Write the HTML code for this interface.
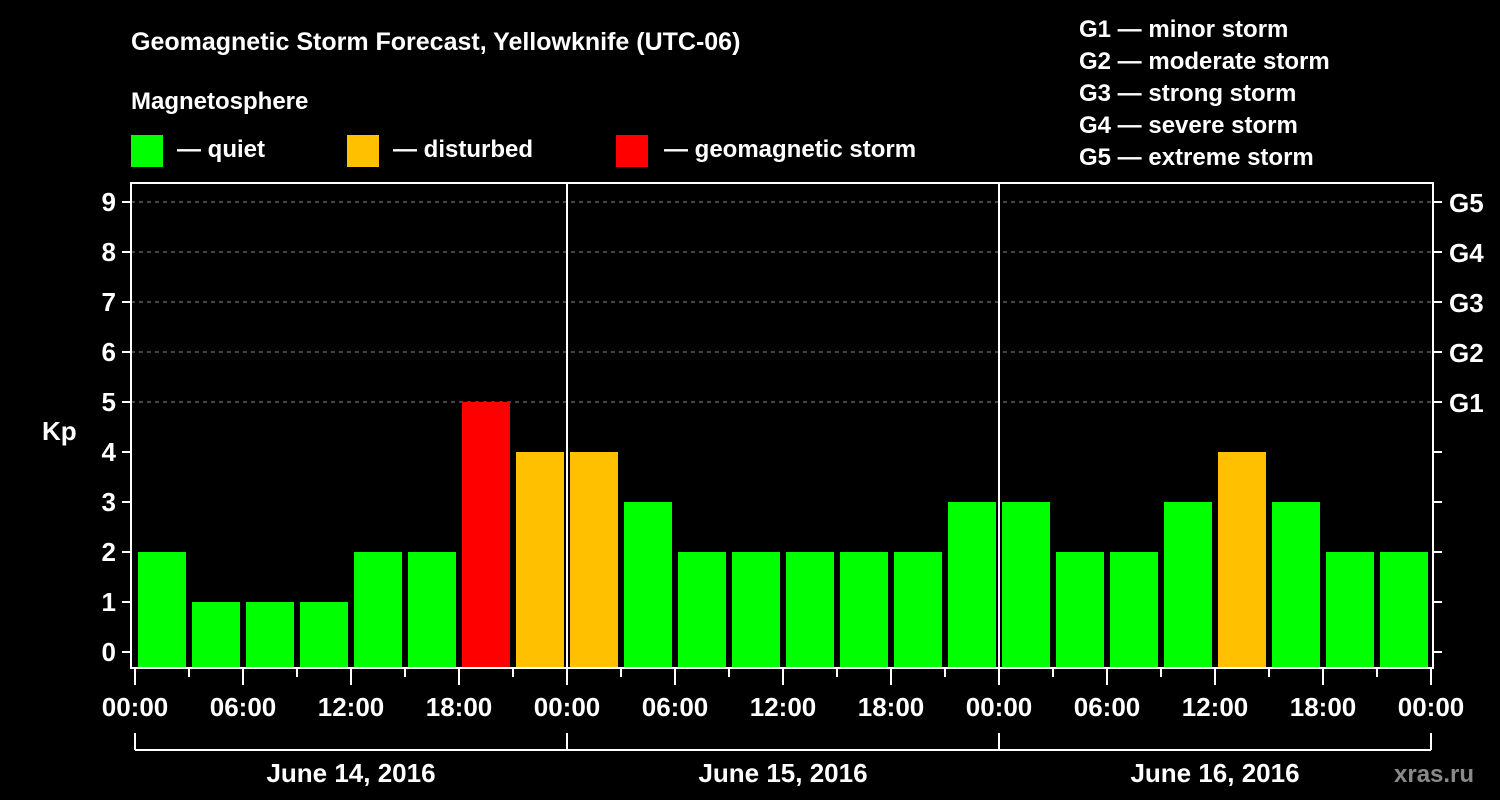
<!DOCTYPE html>
<html><head><meta charset="utf-8"><style>
body{margin:0;background:#000;width:1500px;height:800px;overflow:hidden}
svg{display:block;font-family:"Liberation Sans",Arial,sans-serif;font-weight:bold;fill:#fff}
</style></head><body>
<svg id="c" width="1500" height="800" viewBox="0 0 1500 800">
<text x="131" y="50" font-size="25">Geomagnetic Storm Forecast, Yellowknife (UTC-06)</text>
<text x="131" y="109" font-size="24">Magnetosphere</text>
<g><rect x="131" y="135" width="32" height="32" fill="#00ff00"/><text x="177" y="157" font-size="24">— quiet</text></g>
<g><rect x="347" y="135" width="32" height="32" fill="#ffc000"/><text x="393" y="157" font-size="24">— disturbed</text></g>
<g><rect x="616" y="135" width="32" height="32" fill="#ff0000"/><text x="664" y="157" font-size="24">— geomagnetic storm</text></g>
<g font-size="24">
<text x="1079" y="37">G1 — minor storm</text><text x="1079" y="69">G2 — moderate storm</text><text x="1079" y="101">G3 — strong storm</text><text x="1079" y="133">G4 — severe storm</text><text x="1079" y="165">G5 — extreme storm</text></g>
<text x="42" y="440" font-size="26">Kp</text>
<text x="1394" y="782" font-size="24" fill="#888" style="fill:#8a8a8a">xras.ru</text>
<g id="grid"></g><g id="bars"></g><g id="axes"></g>
</svg>
<script>
const kpValues=[2,1,1,1,2,2,5,4, 4,3,2,2,2,2,2,3, 3,2,2,3,4,3,2,2];
const dayLabels=["June 14, 2016","June 15, 2016","June 16, 2016"];
const yTicks=[0,1,2,3,4,5,6,7,8,9];
const gLabels=["G1","G2","G3","G4","G5"];
const hourLabels=["00:00","06:00","12:00","18:00"];
const NS="http://www.w3.org/2000/svg";
const x0=135,slot=54,yBase=652,unit=50,plotL=131,plotR=1433,plotT=183,plotB=668;
const xs=i=>x0+slot*i, ys=v=>yBase-unit*v;
function mk(t,a,p){const e=document.createElementNS(NS,t);for(const k in a)e.setAttribute(k,a[k]);p.appendChild(e);return e;}
const grid=document.getElementById('grid'),bars=document.getElementById('bars'),axes=document.getElementById('axes');
yTicks.forEach(v=>{
 if(v>=5){const l=mk('line',{x1:plotL,x2:plotR,y1:ys(v),y2:ys(v),stroke:'#888','stroke-dasharray':'4 4','stroke-width':1},grid);
 
 }
 mk('line',{x1:122,x2:plotL,y1:ys(v),y2:ys(v),stroke:'#fff','stroke-width':2},axes);
 mk('line',{x1:plotR,x2:1442,y1:ys(v),y2:ys(v),stroke:'#fff','stroke-width':2},axes);
 const t=mk('text',{x:116,y:ys(v)+9,'text-anchor':'end','font-size':26},axes);t.textContent=v;
 
 
});
gLabels.forEach((g,i)=>{const t=mk('text',{x:1449,y:ys(5+i)+10,'font-size':26},axes);t.textContent=g;
 
 });
kpValues.forEach((v,i)=>{
 const c=v>=5?'#ff0000':(v>=4?'#ffc000':'#00ff00');
 const r=mk('rect',{x:xs(i)+3,y:ys(v),width:48,height:plotB-1-ys(v),fill:c},bars);
 
 
});
mk('rect',{x:plotL,y:plotT,width:plotR-plotL,height:plotB-plotT,fill:'none',stroke:'#fff','stroke-width':2},axes);
[1,2].forEach(d=>mk('line',{x1:xs(8*d),x2:xs(8*d),y1:plotT,y2:plotB,stroke:'#fff','stroke-width':2},axes));
for(let i=0;i<=24;i++){
 const long=i%2===0;
 mk('line',{x1:xs(i),x2:xs(i),y1:plotB,y2:long?685:677,stroke:'#fff','stroke-width':2},axes);
 if(long){const t=mk('text',{x:xs(i),y:716,'text-anchor':'middle','font-size':26},axes);t.textContent=hourLabels[(i/2)%4];
 
 }
}
mk('line',{x1:xs(0),x2:xs(24),y1:750,y2:750,stroke:'#fff','stroke-width':2},axes);
dayLabels.forEach((d,k)=>{
 const t=mk('text',{x:xs(8*k+4),y:782,'text-anchor':'middle','font-size':26},axes);t.textContent=d;
 
 
});
for(let k=0;k<=3;k++)mk('line',{x1:xs(8*k),x2:xs(8*k),y1:733,y2:750,stroke:'#fff','stroke-width':2},axes);
</script>
</body></html>
